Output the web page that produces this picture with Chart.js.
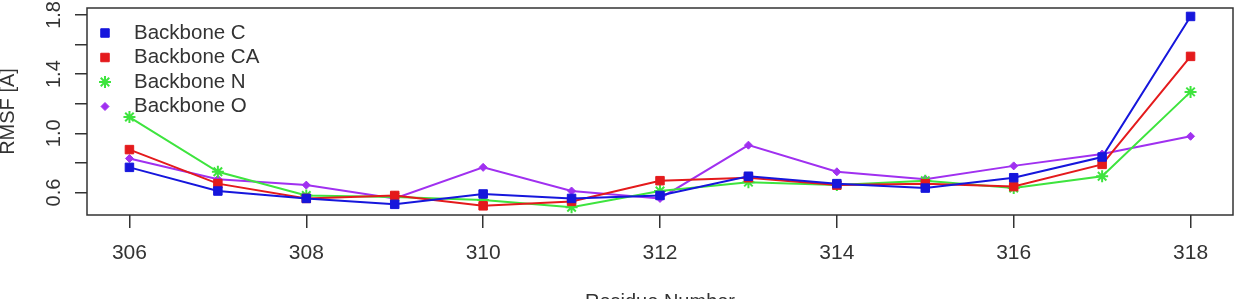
<!DOCTYPE html>
<html>
<head>
<meta charset="utf-8">
<script src="https://cdn.jsdelivr.net/npm/chart.js@4"></script>
<style>
  body { margin: 0; background: #fff; }
  #wrap { width: 1250px; height: 299px; position: relative; }
</style>
</head>
<body>
<div id="wrap"><canvas id="rmsf"></canvas></div>
<script>
// residues and RMSF per backbone atom
const residues = [306, 307, 308, 309, 310, 311, 312, 313, 314, 315, 316, 317, 318];
const backboneC  = [0.77, 0.61, 0.56, 0.52, 0.59, 0.56, 0.58, 0.71, 0.66, 0.63, 0.70, 0.84, 1.79];
const backboneCA = [0.89, 0.66, 0.56, 0.58, 0.51, 0.54, 0.68, 0.70, 0.65, 0.66, 0.64, 0.79, 1.52];
const backboneN  = [1.11, 0.74, 0.58, 0.57, 0.55, 0.50, 0.61, 0.67, 0.65, 0.68, 0.63, 0.71, 1.28];
const backboneO  = [0.83, 0.69, 0.65, 0.56, 0.77, 0.61, 0.56, 0.92, 0.74, 0.69, 0.78, 0.86, 0.98];

const xTicks = [306, 308, 310, 312, 314, 316, 318];
const yTicks = [0.6, 0.8, 1.0, 1.2, 1.4, 1.6, 1.8];
const yLabels = [0.6, 1.0, 1.4, 1.8];

const FONT = '"Liberation Sans", Arial, sans-serif';
const TEXT = '#333';

function pts(vals) {
    return residues.map((r, i) => ({ x: r, y: vals[i] }));
}

function series(label, vals, color, style, radius) {
    return {
        label: label,
        data: pts(vals),
        borderColor: color,
        backgroundColor: color,
        pointBackgroundColor: color,
        pointBorderColor: color,
        pointStyle: style,
        pointRadius: radius,
        pointBorderWidth: style === 'star' ? 2 : 1,
        borderWidth: 2,
        tension: 0
    };
}

// box, rotated y labels, axis titles and the legend inside the plot
const decorations = {
    id: 'decorations',
    afterDraw(chart) {
        const ctx = chart.ctx;
        const a = chart.chartArea;
        const y = chart.scales.y;
        ctx.save();
        ctx.strokeStyle = '#333';
        ctx.lineWidth = 1.5;
        ctx.strokeRect(a.left, a.top, a.right - a.left, a.bottom - a.top);

        ctx.fillStyle = TEXT;
        ctx.font = '20px ' + FONT;
        ctx.textAlign = 'center';
        ctx.textBaseline = 'middle';
        yLabels.forEach(v => {
            ctx.save();
            ctx.translate(54, y.getPixelForValue(v));
            ctx.rotate(-Math.PI / 2);
            ctx.fillText(v.toFixed(1), 0, 0);
            ctx.restore();
        });

        ctx.save();
        ctx.translate(8, (a.top + a.bottom) / 2);
        ctx.rotate(-Math.PI / 2);
        ctx.fillText('RMSF [A]', 0, 0);
        ctx.restore();

        ctx.textBaseline = 'top';
        ctx.fillText('Residue Number', (a.left + a.right) / 2, 292);

        // legend
        ctx.font = '20.5px ' + FONT;
        ctx.textAlign = 'left';
        ctx.textBaseline = 'middle';
        chart.data.datasets.forEach((ds, i) => {
            const ly = 33 + i * 24.5;
            ctx.save();
            ctx.fillStyle = ds.pointBackgroundColor;
            ctx.strokeStyle = ds.pointBorderColor;
            ctx.lineWidth = ds.pointBorderWidth;
            Chart.helpers.drawPoint(ctx, {
                pointStyle: ds.pointStyle,
                radius: ds.pointRadius,
                rotation: 0,
                borderWidth: ds.pointBorderWidth
            }, 105, ly);
            ctx.restore();
            ctx.fillStyle = TEXT;
            ctx.fillText(ds.label, 134, ly);
        });
        ctx.restore();
    }
};

new Chart(document.getElementById('rmsf'), {
    type: 'line',
    data: {
        datasets: [
            series('Backbone C', backboneC, '#1616dc', 'rect', 6),
            series('Backbone CA', backboneCA, '#e41a1c', 'rect', 6),
            series('Backbone N', backboneN, '#3ee43e', 'star', 6),
            series('Backbone O', backboneO, '#a030f0', 'rectRot', 4)
        ]
    },
    options: {
        responsive: true,
        maintainAspectRatio: false,
        animation: false,
        layout: { padding: { top: 8, right: 17, left: 0, bottom: 0 } },
        plugins: { legend: { display: false }, tooltip: { enabled: false } },
        scales: {
            x: {
                type: 'linear',
                min: 305.52,
                max: 318.48,
                afterBuildTicks: s => { s.ticks = xTicks.map(v => ({ value: v })); },
                afterFit: s => { s.height = 84; },
                grid: { drawOnChartArea: false, drawTicks: true, tickLength: 13, color: '#333', lineWidth: 1.5 },
                border: { display: false },
                ticks: {
                    color: TEXT,
                    font: { family: FONT, size: 21 },
                    padding: 13,
                    maxRotation: 0,
                    callback: v => String(v)
                }
            },
            y: {
                min: 0.448,
                max: 1.847,
                afterBuildTicks: s => { s.ticks = yTicks.map(v => ({ value: v })); },
                afterFit: s => { s.width = 87; },
                grid: { drawOnChartArea: false, drawTicks: true, tickLength: 12, color: '#333', lineWidth: 1.5 },
                border: { display: false },
                ticks: { display: false }
            }
        }
    },
    plugins: [decorations]
});
</script>
</body>
</html>
